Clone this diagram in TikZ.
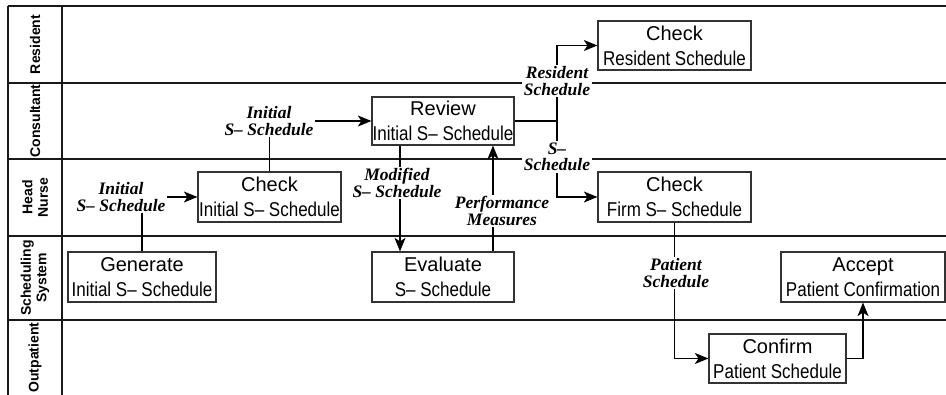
\documentclass[tikz,border=0pt]{standalone}
\usepackage{fontspec}
\setmainfont{Liberation Sans}
\newfontfamily\narrowfont[FakeStretch=0.85]{Liberation Sans}
\newfontfamily\lblfont{Liberation Serif}
\usetikzlibrary{arrows.meta}
\begin{document}
\begin{tikzpicture}[x=1pt,y=-1pt,
  box/.style={draw=black!80, line width=1.2pt, inner sep=0pt, align=center,
    font=\fontsize{20}{25}\selectfont},
  lbl/.style={fill=white, inner sep=1.5pt, align=center,
    font=\lblfont\bfseries\itshape\fontsize{17.5}{16.5}\selectfont},
  hdr/.style={rotate=90, align=center, font=\bfseries\fontsize{14}{15.5}\selectfont},
  lane/.style={line width=1.8pt, black!90},
  conn/.style={line width=1.4pt},
  arr/.style={line width=1.4pt, -{Stealth[length=13.5pt,width=11pt,inset=3.5pt]}}]
\useasboundingbox (0,0) rectangle (946,395);

% swimlane grid
\draw[lane] (8,6) -- (946,6);
\draw[lane] (8,83) -- (946,83);
\draw[lane] (8,159) -- (946,159);
\draw[lane] (8,236) -- (946,236);
\draw[lane] (8,320) -- (946,320);
\draw[lane] (8,6) -- (8,395);
\draw[lane] (62,6) -- (62,395);

% lane headers
\node[hdr] (hres) at (35,44.5) {Resident};
\node[hdr] (hcon) at (35,121) {Consultant};
\node[hdr] (hhn) at (35,197.5) {Head\\Nurse};
\node[hdr] (hss) at (35,278) {Scheduling\\System};
\node[hdr] (hout) at (35,357.5) {Outpatient};

% activity boxes
\node[box, minimum width=148, minimum height=50] (gen) at (142,277)
  {Generate\\{\narrowfont Initial S– Schedule}};
\node[box, minimum width=143, minimum height=50] (chkinit) at (269.5,197)
  {Check\\{\narrowfont Initial S– Schedule}};
\node[box, minimum width=142, minimum height=48] (review) at (443,121)
  {Review\\{\narrowfont Initial S– Schedule}};
\node[box, minimum width=142, minimum height=50] (eval) at (443,277)
  {Evaluate\\{\narrowfont S– Schedule}};
\node[box, minimum width=153, minimum height=49] (chkres) at (674.5,45.5)
  {Check\\{\narrowfont Resident Schedule}};
\node[box, minimum width=153, minimum height=50] (chkfirm) at (674.5,197)
  {Check\\{\narrowfont Firm S– Schedule}};
\node[box, minimum width=164, minimum height=50] (accept) at (863,277)
  {Accept\\{\narrowfont Patient Confirmation}};
\node[box, minimum width=137, minimum height=49] (confirm) at (777.5,358.5)
  {Confirm\\{\narrowfont Patient Schedule}};

% helper coordinates
\coordinate (mx) at (400,0);
\coordinate (px) at (493,0);
\coordinate (jn) at (557,121);

% connectors
\draw[arr] (gen.north) |- (chkinit.west);
\draw[arr] (chkinit.north) |- (review.west);
\draw[arr] (review.south -| mx) -- (eval.north -| mx);
\draw[arr] (eval.north -| px) -- (review.south -| px);
\draw[conn] (review.east) -- (jn);
\draw[arr] (jn) |- (chkres.west);
\draw[arr] (jn) |- (chkfirm.west);
\draw[arr] (chkfirm.south) |- (confirm.west);
\draw[arr] (confirm.east) -| (accept.south);

% flow labels
\node[lbl] (l1) at (121,197) {Initial\\S– Schedule};
\node[lbl] (l2) at (269,121) {Initial\\S– Schedule};
\node[lbl] (l3) at (397,183) {Modified\\S– Schedule};
\node[lbl] (l4) at (502,211) {Performance\\Measures};
\node[lbl] (l5) at (557,81) {Resident\\Schedule};
\node[lbl] (l6) at (557,157) {S–\\Schedule};
\node[lbl] (l7) at (676,273) {Patient\\Schedule};
\end{tikzpicture}
\end{document}
